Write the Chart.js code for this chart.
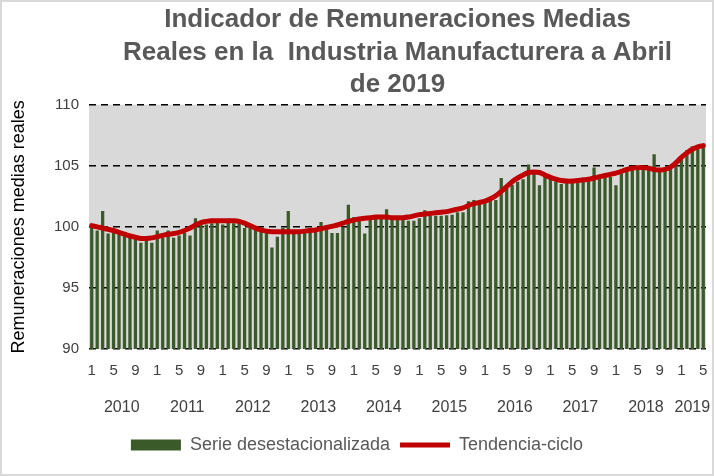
<!DOCTYPE html>
<html>
<head>
<meta charset="utf-8">
<script src="https://cdn.jsdelivr.net/npm/chart.js"></script>
<style>
    html, body { margin: 0; padding: 0; background: #ffffff; }
    #wrap { width: 714px; height: 476px; }
</style>
</head>
<body>
<div id="wrap"><canvas id="chart" width="714" height="476"></canvas></div>
<script>
// Years shown and how many months each one has in the series
const years = [2010, 2011, 2012, 2013, 2014, 2015, 2016, 2017, 2018, 2019];
const monthsPerYear = [12, 12, 12, 12, 12, 12, 12, 12, 12, 5];
// Month numbers that get a tick label
const shownMonths = [1, 5, 9];
const yTicks = [90, 95, 100, 105, 110];

// Serie desestacionalizada (Jan 2010 - May 2019)
const serie = [
    100.0, 99.7, 101.3, 99.45, 99.5, 99.5, 99.3, 99.1, 99.0, 98.7, 98.9, 98.7,
    99.7, 99.1, 99.7, 99.1, 99.3, 99.5, 99.3, 100.7, 100.2, 100.2, 100.3, 100.4,
    100.2, 100.5, 100.3, 100.4, 99.9, 99.9, 99.8, 99.7, 99.5, 98.3, 99.2, 99.9,
    101.3, 99.7, 99.6, 99.6, 99.6, 99.7, 100.4, 99.8, 99.5, 99.5, 100.0, 101.8,
    100.8, 100.6, 99.45, 100.7, 100.7, 100.8, 101.45, 100.7, 100.6, 100.6, 100.5, 100.5,
    100.7, 101.35, 100.9, 100.9, 100.9, 100.95, 101.0, 101.2, 101.2, 102.1, 102.2, 101.9,
    102.0, 102.15, 102.2, 104.0, 103.1, 103.45, 103.7, 103.9, 105.1, 104.6, 103.4, 104.2,
    104.0, 103.7, 103.5, 103.6, 103.6, 103.6, 103.7, 103.75, 104.85, 103.95, 104.0, 104.1,
    103.4, 104.35, 104.6, 104.65, 104.65, 104.65, 104.65, 105.95, 104.6, 104.8, 105.05, 105.35,
    105.6, 106.3, 106.6, 106.45, 106.7
];

// Tendencia-ciclo
const tendencia = [
    100.1, 100.0, 99.9, 99.8, 99.7, 99.55, 99.4, 99.25, 99.15, 99.05, 99.05, 99.1,
    99.2, 99.3, 99.4, 99.45, 99.55, 99.7, 99.9, 100.15, 100.35, 100.45, 100.5, 100.5,
    100.5, 100.5, 100.5, 100.45, 100.3, 100.1, 99.9, 99.75, 99.65, 99.6, 99.6, 99.6,
    99.6, 99.6, 99.6, 99.65, 99.7, 99.75, 99.85, 99.95, 100.05, 100.15, 100.3, 100.45,
    100.55, 100.65, 100.7, 100.75, 100.8, 100.8, 100.8, 100.75, 100.75, 100.75, 100.8, 100.9,
    101.0, 101.05, 101.1, 101.15, 101.2, 101.25, 101.35, 101.45, 101.55, 101.75, 101.9, 102.0,
    102.1, 102.3, 102.55, 102.9, 103.3, 103.7, 104.0, 104.25, 104.45, 104.5, 104.45, 104.25,
    104.05, 103.9, 103.8, 103.75, 103.75, 103.8, 103.85, 103.9, 104.0, 104.1, 104.2, 104.3,
    104.4, 104.55, 104.7, 104.8, 104.85, 104.85, 104.8, 104.7, 104.65, 104.7, 104.9, 105.25,
    105.7, 106.05, 106.35, 106.55, 106.65
];

// category labels = month numbers, one per point
const categories = [];
monthsPerYear.forEach(n => {
    for (let m = 1; m <= n; m++) categories.push(String(m));
});

// grey plot area and light frame round the whole chart
const plotBackground = {
    id: 'plotBackground',
    beforeDraw(chart) {
        const { ctx, chartArea: a } = chart;
        ctx.save();
        ctx.fillStyle = '#d9d9d9';
        ctx.fillRect(a.left, a.top, a.right - a.left, a.bottom - a.top);
        ctx.restore();
    },
    afterDraw(chart) {
        const ctx = chart.ctx;
        ctx.save();
        ctx.strokeStyle = '#d9d9d9';
        ctx.lineWidth = 2;
        ctx.strokeRect(1, 1, chart.width - 2, chart.height - 2);
        ctx.restore();
    }
};

// year row under the month ticks
const yearLabels = {
    id: 'yearLabels',
    afterDraw(chart) {
        const x = chart.scales.x;
        const ctx = chart.ctx;
        ctx.save();
        ctx.font = '16px "Liberation Sans", Arial, sans-serif';
        ctx.fillStyle = '#404040';
        ctx.textAlign = 'center';
        ctx.textBaseline = 'middle';
        let start = 0;
        years.forEach((yr, i) => {
            const end = start + monthsPerYear[i] - 1;
            const cx = (x.getPixelForValue(start) + x.getPixelForValue(end)) / 2;
            ctx.fillText(String(yr), cx, x.top + 59);
            start = end + 1;
        });
        ctx.restore();
    }
};

new Chart(document.getElementById('chart'), {
    type: 'bar',
    data: {
        labels: categories,
        datasets: [{
            label: 'Serie desestacionalizada',
            data: serie,
            backgroundColor: '#3b5a29',
            borderWidth: 0,
            barPercentage: 0.6,
            categoryPercentage: 1.0,
            order: 1
        }, {
            type: 'line',
            label: 'Tendencia-ciclo',
            data: tendencia,
            borderColor: '#c00000',
            backgroundColor: '#c00000',
            borderWidth: 5,
            borderCapStyle: 'round',
            pointRadius: 0,
            tension: 0.4,
            order: 0
        }]
    },
    options: {
        responsive: false,
        animation: false,
        layout: { padding: { top: 4, left: 8, right: 8, bottom: 12 } },
        plugins: {
            title: {
                display: true,
                fullSize: false,
                text: ['Indicador de Remuneraciones Medias', 'Reales en la  Industria Manufacturera a Abril', 'de 2019'],
                color: '#595959',
                font: { family: '"Liberation Sans", Arial, sans-serif', size: 26, weight: 'bold', lineHeight: 1.24 },
                padding: { top: 0, bottom: 4 }
            },
            legend: {
                position: 'bottom',
                labels: {
                    color: '#595959',
                    font: { family: '"Liberation Sans", Arial, sans-serif', size: 18 },
                    usePointStyle: true,
                    pointStyleWidth: 50,
                    boxHeight: 11,
                    padding: 10,
                    sort: (a, b) => a.datasetIndex - b.datasetIndex,
                    generateLabels(chart) {
                        const items = Chart.defaults.plugins.legend.labels.generateLabels(chart);
                        items.forEach(it => {
                            it.pointStyle = it.datasetIndex === 0 ? 'rect' : 'line';
                        });
                        return items;
                    }
                }
            },
            tooltip: { enabled: false }
        },
        scales: {
            x: {
                grid: { display: false },
                border: { display: false },
                ticks: {
                    autoSkip: false,
                    maxRotation: 0,
                    padding: 5,
                    color: '#404040',
                    font: { family: '"Liberation Sans", Arial, sans-serif', size: 15 },
                    callback(v) {
                        const m = this.getLabelForValue(v);
                        return shownMonths.includes(Number(m)) ? m : '';
                    }
                },
                afterFit(s) { s.height = 77; }
            },
            y: {
                min: yTicks[0],
                max: yTicks[yTicks.length - 1],
                afterBuildTicks(s) { s.ticks = yTicks.map(v => ({ value: v })); },
                grid: { color: '#000000', lineWidth: 1.4, drawTicks: false },
                border: { display: false, dash: [7, 5] },
                ticks: {
                    padding: 10,
                    color: '#404040',
                    font: { family: '"Liberation Sans", Arial, sans-serif', size: 15 }
                },
                title: {
                    display: true,
                    text: 'Remuneraciones medias reales',
                    color: '#000000',
                    font: { family: '"Liberation Sans", Arial, sans-serif', size: 18 },
                    padding: { top: 0, bottom: 4 }
                },
                afterFit(s) { s.width = 81; }
            }
        }
    },
    plugins: [plotBackground, yearLabels]
});
</script>
</body>
</html>
